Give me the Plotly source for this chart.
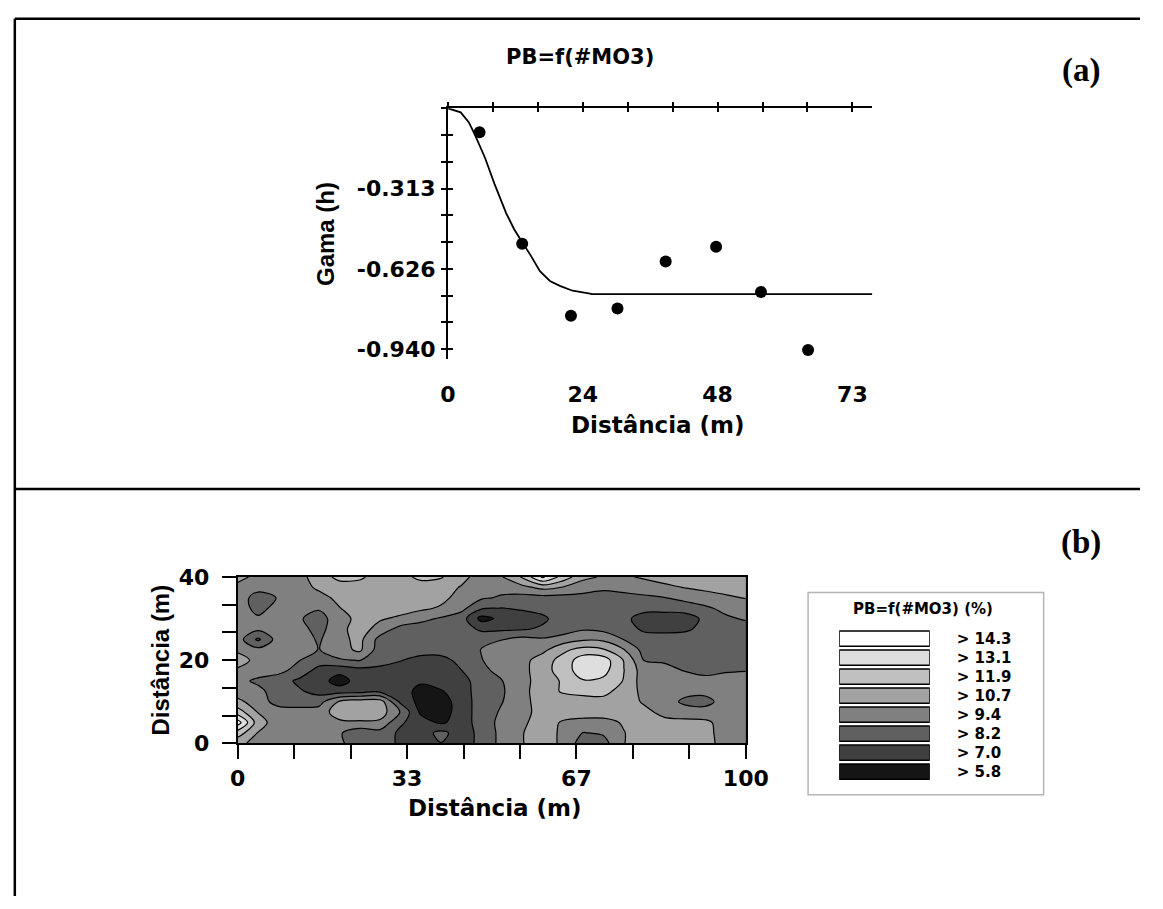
import plotly.graph_objects as go

W, H = 1163, 909


def fx(px):
    return px / W


def fy(py):
    return 1 - py / H


# ---------------- (a) experimental semivariogram + fitted model ----------------
lag_m = [5.7, 13.4, 22.2, 30.6, 39.3, 48.4, 56.5, 65.0]
gamma_obs = [-0.094, -0.529, -0.810, -0.781, -0.598, -0.540, -0.717, -0.943]

model_lag = [0, 2.3, 3.75, 4.9, 6.7, 8.4, 10.5, 11.95, 13.4, 14.9, 16.6,
             18.4, 20.2, 22.5, 25.4, 26.0, 76.6]
model_gamma = [0, -0.016, -0.054, -0.105, -0.194, -0.295, -0.409, -0.472,
               -0.523, -0.573, -0.636, -0.674, -0.693, -0.712, -0.722,
               -0.725, -0.725]

gamma_tick_vals = [-k * 0.94 / 9 for k in range(10)]
gamma_tick_text = ["", "", "", "-0.313", "", "", "-0.626", "", "", "-0.940"]
lag_tick_vals = [k * 73 / 9 for k in range(10)]
lag_label_vals = [0, 73 / 3, 146 / 3, 73]
lag_label_text = ["0", "24", "48", "73"]

# ---------------- (b) kriged map of PB (%) ----------------
grid_x = [0, 4, 8, 12, 16, 20, 24, 28, 32, 36, 40, 44, 48, 52, 56, 60, 64,
          68, 72, 76, 80, 84, 88, 92, 96, 100]
grid_y = [0, 2.5, 5, 7.5, 10, 12.5, 15, 17.5, 20, 22.5, 25, 27.5, 30, 32.5,
          35, 37.5, 40]

pb_y00_0 = [11.0, 10.2, 10.0, 9.8, 9.9, 9.8, 8.4, 8.9, 8.0, 7.6, 8.2, 7.6, 8.6, 9.8, 10.6, 11.3, 10.4, 8.8, 9.0, 10.6, 11.6, 11.3, 11.3, 11.0, 10.3, 10.0]
pb_y02_5 = [12.5, 10.6, 10.0, 9.9, 9.8, 9.6, 8.6, 9.0, 8.0, 7.6, 8.6, 7.6, 8.6, 9.8, 10.6, 11.3, 10.4, 9.4, 9.6, 10.6, 11.4, 11.2, 11.2, 11.0, 10.2, 10.0]
pb_y05_0 = [14.9, 11.2, 10.0, 10.0, 9.8, 10.4, 10.5, 10.4, 8.4, 7.6, 6.8, 7.6, 8.8, 9.8, 10.4, 11.3, 10.5, 10.2, 10.2, 10.8, 11.2, 11.0, 11.0, 10.9, 10.2, 10.0]
pb_y07_5 = [12.5, 10.6, 10.0, 10.0, 10.0, 11.3, 11.4, 11.3, 9.4, 6.8, 6.4, 7.6, 8.8, 9.6, 10.1, 11.3, 11.3, 11.3, 11.3, 11.3, 11.0, 10.3, 10.0, 10.0, 10.0, 10.0]
pb_y10_0 = [11.0, 10.0, 9.0, 8.8, 9.0, 10.8, 11.3, 11.3, 8.0, 6.6, 6.4, 7.6, 8.8, 9.4, 10.2, 11.3, 11.3, 11.4, 11.5, 11.3, 10.5, 10.0, 9.2, 9.0, 10.0, 10.0]
pb_y12_5 = [10.0, 9.8, 8.8, 8.4, 7.8, 7.7, 7.8, 8.0, 7.6, 6.6, 6.9, 7.7, 8.8, 9.3, 10.3, 11.3, 12.0, 12.2, 12.2, 11.4, 10.3, 10.0, 9.8, 9.8, 10.0, 10.0]
pb_y15_0 = [9.8, 9.2, 8.8, 8.0, 7.6, 6.4, 7.6, 7.6, 7.6, 7.2, 7.6, 7.8, 8.8, 9.4, 10.2, 11.3, 12.0, 13.0, 12.8, 11.8, 10.0, 10.0, 9.8, 9.6, 10.0, 10.0]
pb_y17_5 = [10.4, 10.0, 9.8, 9.0, 7.8, 7.4, 7.8, 7.8, 7.6, 7.5, 7.5, 8.2, 9.0, 10.0, 10.3, 11.3, 12.5, 13.7, 13.5, 11.9, 10.0, 10.0, 9.4, 9.3, 9.3, 9.4]
pb_y20_0 = [11.3, 10.2, 10.0, 9.5, 8.8, 9.3, 9.5, 8.8, 8.3, 7.8, 7.8, 8.6, 9.4, 10.0, 10.2, 11.3, 12.3, 13.8, 13.7, 11.8, 9.4, 9.2, 9.0, 8.9, 8.9, 8.9]
pb_y22_5 = [10.4, 9.8, 10.0, 10.0, 9.4, 10.2, 10.9, 8.8, 8.8, 8.8, 8.8, 8.8, 9.5, 10.0, 10.1, 10.3, 11.6, 12.3, 12.0, 10.7, 9.0, 8.8, 8.8, 8.8, 8.8, 8.8]
pb_y25_0 = [10.0, 8.0, 10.0, 10.0, 9.3, 10.3, 11.0, 9.0, 8.8, 8.8, 8.8, 8.8, 9.0, 9.4, 9.8, 9.6, 10.0, 10.5, 10.4, 9.4, 8.8, 8.8, 8.8, 8.8, 8.8, 8.8]
pb_y27_5 = [10.0, 9.7, 10.0, 9.9, 9.0, 10.3, 11.2, 10.2, 9.0, 8.8, 8.8, 8.8, 8.0, 8.0, 8.1, 8.4, 8.8, 9.3, 9.1, 8.8, 8.0, 7.9, 8.0, 8.6, 8.8, 8.8]
pb_y30_0 = [10.0, 9.6, 10.0, 9.6, 8.9, 10.2, 11.0, 10.8, 10.4, 9.8, 9.3, 8.8, 6.6, 7.3, 7.6, 8.0, 8.8, 8.8, 8.8, 8.6, 7.6, 7.5, 7.6, 8.5, 9.2, 9.6]
pb_y32_5 = [10.0, 9.1, 9.8, 9.9, 9.6, 10.6, 11.3, 11.3, 11.2, 10.9, 10.5, 9.8, 8.4, 8.2, 8.4, 8.6, 8.8, 8.8, 8.8, 8.8, 8.7, 8.7, 8.8, 9.2, 9.8, 10.2]
pb_y35_0 = [10.0, 9.0, 9.5, 10.0, 10.2, 11.0, 11.3, 11.3, 11.3, 11.2, 11.0, 10.2, 9.6, 9.3, 9.0, 9.0, 9.0, 9.1, 9.1, 9.1, 9.2, 9.4, 9.8, 10.2, 10.5, 10.7]
pb_y37_5 = [10.0, 9.8, 10.0, 10.1, 10.9, 11.3, 11.3, 11.3, 11.3, 11.2, 11.0, 10.6, 9.9, 9.8, 10.3, 11.0, 10.6, 9.9, 9.6, 9.8, 10.1, 10.4, 10.7, 10.9, 11.0, 11.1]
pb_y40_0 = [11.4, 10.0, 10.0, 10.2, 11.3, 12.2, 12.1, 11.3, 11.4, 12.2, 12.0, 10.9, 10.3, 10.6, 12.0, 14.5, 12.6, 11.0, 10.5, 10.5, 10.8, 11.1, 11.3, 11.3, 11.3, 11.3]

pb_rows = [pb_y00_0, pb_y02_5, pb_y05_0, pb_y07_5, pb_y10_0, pb_y12_5,
           pb_y15_0, pb_y17_5, pb_y20_0, pb_y22_5, pb_y25_0, pb_y27_5,
           pb_y30_0, pb_y32_5, pb_y35_0, pb_y37_5, pb_y40_0]

map_tick_vals_x = [k * 100 / 9 for k in range(10)]
map_tick_text_x = ["0", "", "", "33", "", "", "67", "", "", "100"]
map_tick_vals_y = [k * 40 / 6 for k in range(7)]
map_tick_text_y = ["0", "", "", "20", "", "", "40"]

# class thresholds (legend, top to bottom) and their grey fills
class_limits = [14.3, 13.1, 11.9, 10.7, 9.4, 8.2, 7.0, 5.8]
class_labels = ["> 14.3", "> 13.1", "> 11.9", "> 10.7", "> 9.4", "> 8.2", "> 7.0", "> 5.8"]
class_greys = ["#ffffff", "#dedede", "#c0c0c0", "#a2a2a2", "#808080", "#606060", "#404040", "#151515"]

SANS = "DejaVu Sans"
ARIAL = "Liberation Sans"
SERIF = "Liberation Serif"

fig = go.Figure()

# model curve and experimental points
fig.add_trace(go.Scatter(x=model_lag, y=model_gamma, mode="lines",
                         line=dict(color="black", width=1.8),
                         xaxis="x", yaxis="y", showlegend=False, hoverinfo="skip"))
fig.add_trace(go.Scatter(x=lag_m, y=gamma_obs, mode="markers",
                         marker=dict(color="black", size=12, line=dict(width=0)),
                         xaxis="x", yaxis="y", showlegend=False))

# empty carriers so the overlaid frame axes (crossing ticks) get drawn
for xa, ya in (("x2", "y"), ("x3", "y"), ("x", "y2")):
    fig.add_trace(go.Scatter(x=[0], y=[0], mode="markers",
                             marker=dict(size=1, opacity=0),
                             xaxis=xa, yaxis=ya, showlegend=False, hoverinfo="skip"))

# contour map: piecewise-constant grey scale so each band gets its class colour
lo, hi = min(class_limits), max(class_limits)
step = (hi - lo) / (len(class_limits) - 1)
band_colours = ["#000000"] + class_greys[::-1]
nb = len(band_colours) - 1
cscale = [[k / nb, c] for k, c in enumerate(band_colours)]

fig.add_trace(go.Contour(
    x=grid_x, y=grid_y, z=pb_rows,
    contours=dict(start=lo, end=hi, size=step, coloring="fill", showlines=True),
    line=dict(color="black", width=1.2, smoothing=1.0),
    colorscale=cscale, showscale=False, hoverinfo="skip",
    xaxis="x4", yaxis="y4"))

# legend swatches as horizontal bars on their own small axes
fig.add_trace(go.Bar(
    x=[1] * len(class_labels), y=class_labels, orientation="h",
    marker=dict(color=class_greys, line=dict(color="black", width=1.5)),
    xaxis="x5", yaxis="y5", showlegend=False, hoverinfo="skip"))

a_xdom = [fx(452), fx(888)]
a_ydom = [fy(356.7), fy(99)]
a_xrange = [0, 76.6]
a_yrange = [-0.978, 0]

b_xdom = [fx(236), fx(758)]
b_ydom = [fy(752), fy(581)]

tick_font = dict(family=SANS, size=22, color="black", weight="bold")

fig.update_layout(
    width=W, height=H,
    margin=dict(l=0, r=0, t=0, b=0),
    paper_bgcolor="white", plot_bgcolor="white",
    font=dict(family=SANS, color="black"),
    bargap=0.2,
    showlegend=False,
    xaxis=dict(domain=a_xdom, range=a_xrange, anchor="y", side="bottom",
               showline=False, showgrid=False, zeroline=False, ticks="",
               tickvals=lag_label_vals, ticktext=lag_label_text,
               tickfont=tick_font, ticklabelstandoff=20),
    xaxis2=dict(overlaying="x", anchor="y", side="top", range=a_xrange,
                showline=True, linecolor="black", linewidth=2,
                showgrid=False, zeroline=False,
                ticks="outside", ticklen=4, tickwidth=2, tickcolor="black",
                tickvals=lag_tick_vals, showticklabels=False),
    xaxis3=dict(overlaying="x", anchor="y", side="top", range=a_xrange,
                showline=False, showgrid=False, zeroline=False,
                ticks="inside", ticklen=4, tickwidth=2, tickcolor="black",
                tickvals=lag_tick_vals, showticklabels=False),
    yaxis=dict(domain=a_ydom, range=a_yrange, anchor="x",
               showline=True, linecolor="black", linewidth=2,
               showgrid=False, zeroline=False,
               ticks="outside", ticklen=5, tickwidth=2, tickcolor="black",
               tickvals=gamma_tick_vals, ticktext=gamma_tick_text,
               tickfont=tick_font, ticklabelstandoff=1),
    yaxis2=dict(overlaying="y", anchor="x", side="left", range=a_yrange,
                showline=False, showgrid=False, zeroline=False,
                ticks="inside", ticklen=5, tickwidth=2, tickcolor="black",
                tickvals=gamma_tick_vals, showticklabels=False),
    xaxis4=dict(domain=b_xdom, range=[0, 100], anchor="y4",
                showline=True, linecolor="black", linewidth=1.8, mirror=True,
                showgrid=False, zeroline=False,
                ticks="outside", ticklen=14, tickwidth=1.8, tickcolor="black",
                tickvals=map_tick_vals_x, ticktext=map_tick_text_x,
                tickfont=tick_font),
    yaxis4=dict(domain=b_ydom, range=[0, 40], anchor="x4",
                showline=True, linecolor="black", linewidth=1.8, mirror=True,
                showgrid=False, zeroline=False,
                ticks="outside", ticklen=14, tickwidth=1.8, tickcolor="black",
                tickvals=map_tick_vals_y, ticktext=map_tick_text_y,
                tickfont=tick_font, ticklabelstandoff=8),
    xaxis5=dict(domain=[fx(854), fx(947)], range=[0, 1], anchor="y5",
                visible=False, fixedrange=True),
    yaxis5=dict(domain=[fy(791), fy(634.5)], anchor="x5", side="right",
                autorange="reversed", showline=False, showgrid=False,
                zeroline=False, ticks="",
                tickfont=dict(family=SANS, size=15, color="black", weight="bold"),
                ticklabelstandoff=26),
)

annotations = [
    dict(text="PB=f(#MO3)", x=fx(588), y=fy(46),
         font=dict(family=SANS, size=21, color="black", weight="bold")),
    dict(text="Gama (h)", x=fx(326), y=fy(228), textangle=-90,
         font=dict(family=ARIAL, size=24, color="black", weight="bold")),
    dict(text="Distância (m)", x=fx(668), y=fy(425),
         font=dict(family=SANS, size=23, color="black", weight="bold")),
    dict(text="(a)", x=fx(1102), y=fy(60),
         font=dict(family=SERIF, size=33, color="black", weight="bold")),
    dict(text="(b)", x=fx(1102), y=fy(545),
         font=dict(family=SERIF, size=33, color="black", weight="bold")),
    dict(text="Distância (m)", x=fx(157), y=fy(666), textangle=-90,
         font=dict(family=ARIAL, size=24, color="black", weight="bold")),
    dict(text="Distância (m)", x=fx(500), y=fy(818),
         font=dict(family=SANS, size=23, color="black", weight="bold")),
    dict(text="PB=f(#MO3) (%)", x=fx(940), y=fy(614),
         font=dict(family=SANS, size=15, color="black", weight="bold")),
]
for a in annotations:
    a.update(xref="paper", yref="paper", showarrow=False,
             xanchor="center", yanchor="middle")
fig.update_layout(annotations=annotations)

frame = dict(color="black", width=2.5)
fig.update_layout(shapes=[
    dict(type="line", xref="paper", yref="paper", x0=fx(7), x1=1, y0=fy(7), y1=fy(7), line=frame),
    dict(type="line", xref="paper", yref="paper", x0=fx(7), x1=fx(7), y0=fy(7), y1=0, line=frame),
    dict(type="line", xref="paper", yref="paper", x0=fx(7), x1=1, y0=fy(490.5), y1=fy(490.5), line=frame),
    dict(type="rect", xref="paper", yref="paper", x0=fx(822), x1=fx(1064), y0=fy(805), y1=fy(597),
         line=dict(color="#b5b5b5", width=1.5)),
])

fig.write_html("out.html")
